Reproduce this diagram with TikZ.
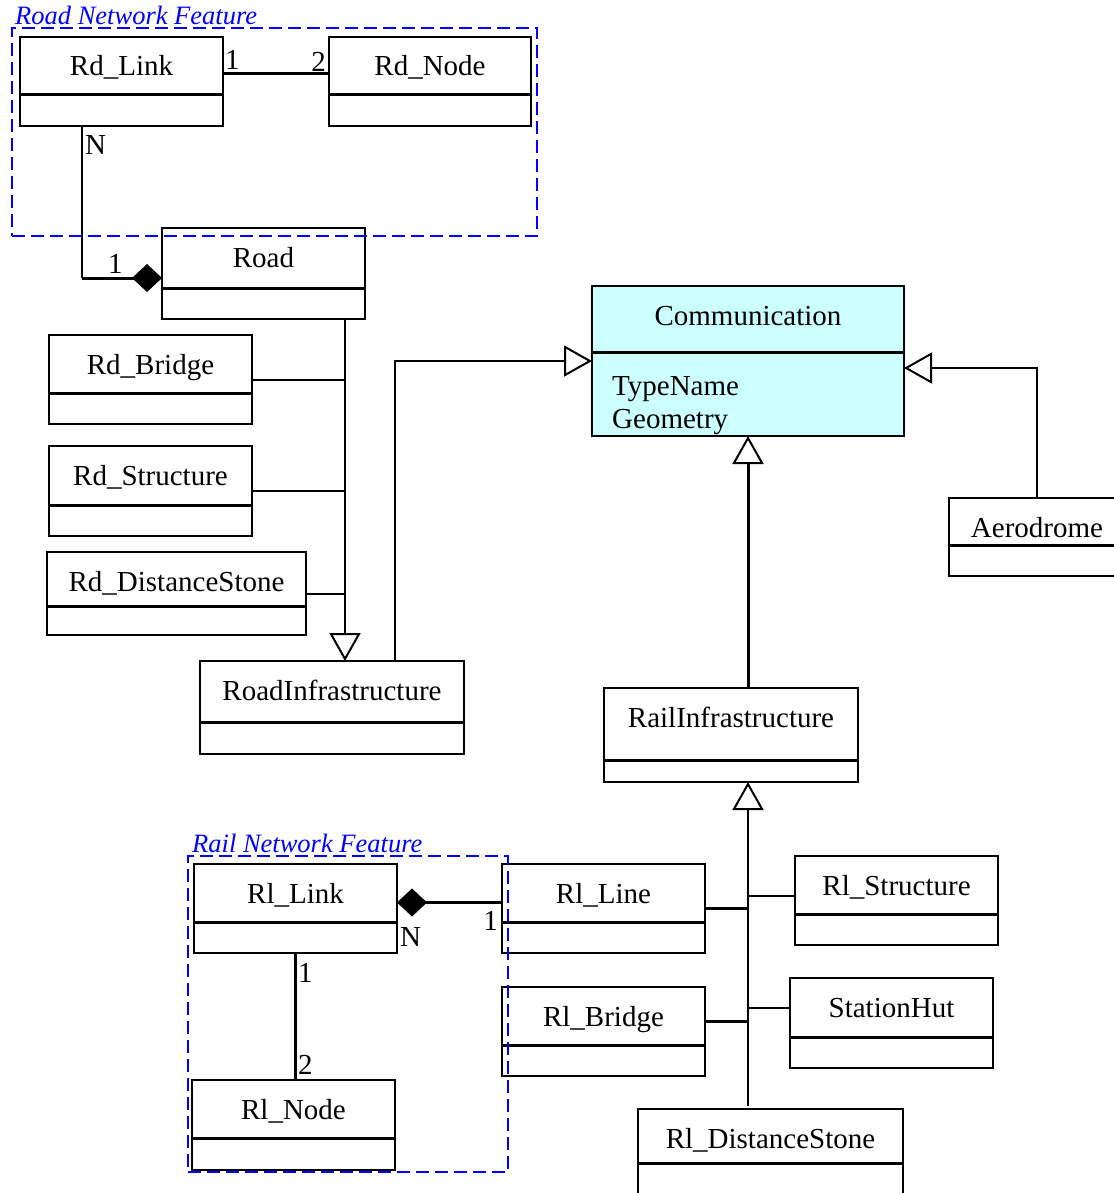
\documentclass[tikz,border=0pt]{standalone}
\usepackage{fontspec}
\setmainfont{Liberation Serif}
\usetikzlibrary{arrows.meta}
\definecolor{commfill}{RGB}{204,255,255}
\definecolor{grpblue}{RGB}{0,0,255}
\tikzset{
  classbox/.style={draw=black, line width=2pt, inner sep=0pt, outer sep=0pt, anchor=north west},
  divider/.style={line width=3pt},
  classtitle/.style={font=\fontsize{29}{34}\selectfont, inner sep=0pt, anchor=base},
  attr/.style={font=\fontsize{29}{34}\selectfont, inner sep=0pt, anchor=base west},
  mult/.style={font=\fontsize{29}{34}\selectfont, inner sep=0pt, anchor=base west},
  groupframe/.style={draw=grpblue, line width=1.6pt, dash pattern=on 13pt off 6pt, inner sep=0pt, outer sep=0pt, anchor=north west},
  grouplabel/.style={text=grpblue, font=\fontsize{26.5}{30}\selectfont\itshape, inner sep=0pt, anchor=base west},
  thinline/.style={line width=2pt},
  thickline/.style={line width=3pt},
  gen/.style={line width=2pt, -{Triangle[open, length=28pt, width=31pt, line width=2pt]}},
  genthick/.style={line width=3pt, -{Triangle[open, length=28pt, width=31pt, line width=2pt]}},
  comp/.style={line width=3pt, -{Diamond[length=30pt, width=28pt]}},
}
% #1 fill, #2 name, #3 x, #4 y, #5 w, #6 h, #7 divider offset, #8 text
\newcommand\umlclass[8][white]{%
  \node[classbox, fill=#1, minimum width=#5pt, minimum height=#6pt] (#2) at (#3,#4) {};
  \draw[divider] ([yshift=-#7pt]#2.north west) -- ([yshift=-#7pt]#2.north east);
  \node[classtitle] (#2-title) at ([yshift=-39pt]#2.north) {#8};
}
\begin{document}
\begin{tikzpicture}[x=1pt, y=-1pt]
\useasboundingbox (0,0) rectangle (1113,1193);
% classes
\umlclass{rdlink}{20}{37}{203}{89}{58}{Rd\_Link}
\umlclass{rdnode}{329}{37}{202}{89}{58}{Rd\_Node}
\umlclass{road}{162}{228}{203}{91}{60}{Road}
\umlclass{rdbridge}{49}{335}{203}{89}{58}{Rd\_Bridge}
\umlclass{rdstruct}{49}{446}{203}{90}{59}{Rd\_Structure}
\umlclass{rddist}{47}{552}{259}{83}{54}{Rd\_DistanceStone}
\umlclass{roadinfra}{200}{661}{264}{93}{61}{RoadInfrastructure}
\umlclass[commfill]{comm}{592}{286}{312}{150}{66}{Communication}
\node[attr] (commtype) at (612,395) {TypeName};
\node[attr] (commgeom) at (612,428) {Geometry};
\umlclass{aero}{949}{498}{176}{78}{47}{Aerodrome}
\umlclass{railinfra}{604}{688}{254}{94}{72}{RailInfrastructure}
\umlclass{rllink}{194}{864}{203}{89}{58}{Rl\_Link}
\umlclass{rlline}{502}{864}{203}{89}{58}{Rl\_Line}
\umlclass{rlstruct}{795}{856}{203}{89}{58}{Rl\_Structure}
\umlclass{rlbridge}{502}{987}{203}{89}{58}{Rl\_Bridge}
\umlclass{station}{790}{978}{203}{90}{59}{StationHut}
\umlclass{rlnode}{192}{1080}{203}{90}{58}{Rl\_Node}
\umlclass{rldist}{638}{1109}{265}{90}{54}{Rl\_DistanceStone}

% road network associations
\draw[thickline] ([yshift=7.5pt]rdlink.east) -- ([yshift=7.5pt]rdnode.west);
\coordinate (rdlinkfoot) at ([xshift=62pt]rdlink.south west);
\coordinate (roadjoin) at ([yshift=-4.5pt]road.west);
\coordinate (rdcorner) at (rdlinkfoot |- roadjoin);
\draw[thinline] (rdlinkfoot) -- (rdcorner);
\draw[comp] (rdcorner) -- (roadjoin);
\node[mult] (m1) at (225,70) {1};
\node[mult, anchor=base east] (m2) at (326,72) {2};
\node[mult] (m3) at (85,155) {N};
\node[mult] (m4) at (108,273) {1};

% road generalisation
\coordinate (rdtrunk) at ([xshift=-20pt]road.south east);
\draw[gen] (rdtrunk) -- (rdtrunk |- roadinfra.north);
\draw[thinline] (rdbridge.east) -- (rdbridge.east -| rdtrunk);
\draw[thinline] (rdstruct.east) -- (rdstruct.east -| rdtrunk);
\draw[thinline] (rddist.east) -- (rddist.east -| rdtrunk);

% to Communication
\draw[gen] ([xshift=-69pt]roadinfra.north east) |- (comm.west);
\draw[gen] (aero.north) |- ([yshift=-7pt]comm.east);
\draw[genthick] ([xshift=17pt]railinfra.north) -- (comm.south);

% rail generalisation
\coordinate (rltrunk) at ([xshift=17pt]railinfra.south);
\coordinate (rltrunkfoot) at ([yshift=3pt]rltrunk |- rldist.north);
\draw[gen] (rltrunkfoot) -- (rltrunk);
\coordinate (rlbridgejoin) at ([yshift=10pt]rlbridge.east);
\coordinate (rlstructjoin) at ([yshift=4.5pt]rlstruct.west);
\coordinate (stationjoin) at ([yshift=15pt]station.west);
\draw[thickline] (rlline.east) -- (rlline.east -| rltrunk);
\draw[thickline] (rlbridgejoin) -- (rlbridgejoin -| rltrunk);
\draw[thinline] (rlstructjoin) -- (rlstructjoin -| rltrunk);
\draw[thinline] (stationjoin) -- (stationjoin -| rltrunk);

% rail network associations
\draw[thickline] (rllink.south) -- (rllink.south |- rlnode.north);
\draw[comp] ([yshift=6pt]rlline.west) -- ([yshift=6pt]rllink.east);
\node[mult] (m5) at (400,946) {N};
\node[mult, anchor=base east] (m6) at (498,930) {1};
\node[mult] (m7) at (298,982) {1};
\node[mult] (m8) at (298,1074) {2};

% group frames
\node[groupframe, minimum width=525pt, minimum height=208pt] (roadgroup) at (12,28) {};
\node[grouplabel] (roadgrouplabel) at (15,25) {Road Network Feature};
\node[groupframe, minimum width=320pt, minimum height=316pt] (railgroup) at (188,856) {};
\node[grouplabel] (railgrouplabel) at (192,852) {Rail Network Feature};
\end{tikzpicture}
\end{document}
